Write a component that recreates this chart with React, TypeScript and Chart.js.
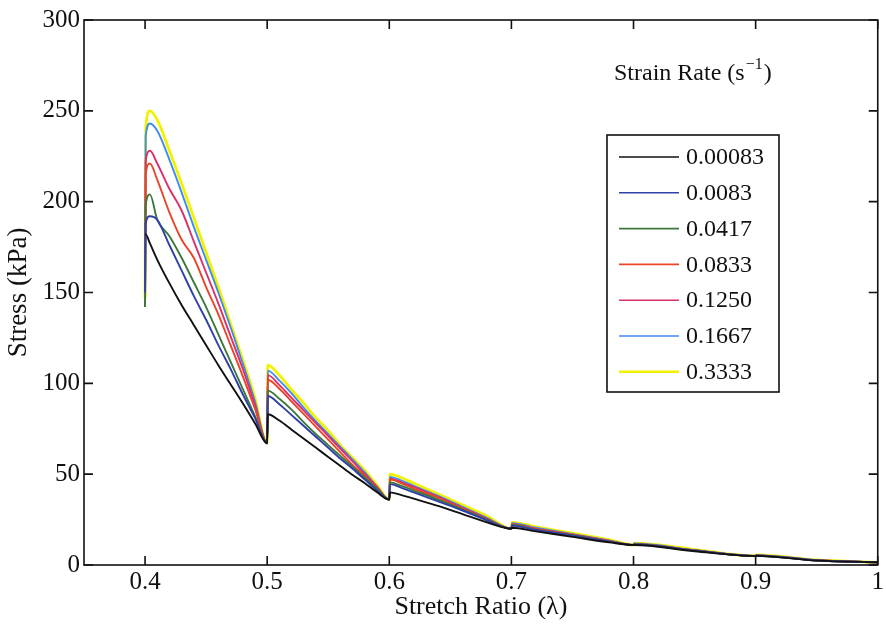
import React, { useEffect, useRef } from "react";
import { Chart, registerables } from "chart.js";

Chart.register(...registerables);

// Stretch ratio grid shared by all series
const lambda = [
  0.4, 0.4005, 0.404, 0.41, 0.42, 0.43, 0.44, 0.45, 0.46, 0.47, 0.48, 0.49,
  0.5, 0.5005, 0.51, 0.52, 0.53, 0.54, 0.55, 0.56, 0.57, 0.58, 0.59,
  0.6, 0.6005, 0.61, 0.62, 0.64, 0.66, 0.68,
  0.7, 0.7005, 0.72, 0.75, 0.78,
  0.8, 0.8005, 0.85,
  0.9, 0.9005, 0.95,
  1.0,
];

const rateLabels = ["0.00083", "0.0083", "0.0417", "0.0833", "0.1250", "0.1667", "0.3333"];

const stress00083 = [
  182, 182, 177, 168, 155, 143, 132, 121, 110, 99.5, 89, 78,
  67, 83, 79.5, 74.5, 69.5, 64.5, 59.5, 54.5, 49.5, 45, 40,
  36, 40, 38.5, 36.5, 32.5, 28, 23.5,
  20, 20.5, 18.5, 15.5, 12.5,
  11, 11, 7.6,
  5, 5, 2.4,
  1.5,
];
const stress0083 = [
  150, 188, 192, 190, 176, 162, 148, 135, 121, 108, 94, 81,
  67, 93, 88.5, 82.5, 76.5, 70.5, 64.5, 58.5, 53, 47, 41,
  36, 44.5, 42.5, 40, 35, 30, 24.5,
  20, 21.7, 19.3, 16.2, 12.9,
  11, 11.3, 7.9,
  5, 5.1, 2.5,
  1.5,
];
const stress0417 = [
  142, 198, 204, 190, 181, 169, 155.5, 142, 127, 112, 97, 82,
  67, 96, 91.5, 85.5, 78.5, 72, 66, 60, 54, 48, 42,
  36, 45.5, 43.5, 41, 36, 30.5, 25,
  20, 22, 19.5, 16.4, 13,
  11, 11.4, 8,
  5, 5.2, 2.5,
  1.5,
];
const stress0833 = [
  142, 215, 221, 212, 194, 179, 169, 153, 138, 121, 104, 86,
  67, 102, 97, 90, 83, 76, 69, 62, 55, 49, 42,
  36, 47, 45, 42, 37, 31, 25,
  20, 22.3, 19.8, 16.6, 13.2,
  11, 11.5, 8,
  5, 5.2, 2.6,
  1.5,
];
const stress1250 = [
  143, 222, 228, 221, 207, 195, 178, 161, 144, 126, 108, 88,
  67, 104.5, 99, 92, 85, 78, 71, 64, 57, 50, 43,
  36, 47.5, 45.5, 43, 37.5, 31.5, 25.5,
  20, 22.5, 20, 16.8, 13.3,
  11, 11.6, 8.1,
  5, 5.3, 2.6,
  1.5,
];
const stress1667 = [
  145, 236, 243, 239, 223, 205, 186, 168, 150, 131, 111, 90,
  67, 107, 101.5, 94.5, 86.5, 79, 72, 65, 58, 51, 43,
  36, 48.5, 46.5, 43.5, 38, 32, 26,
  20, 23, 20.5, 17, 13.5,
  11, 11.8, 8.2,
  5, 5.4, 2.7,
  1.5,
];
const stress3333 = [
  147, 240, 250, 245, 228, 210, 191, 172, 153, 133, 113, 92,
  67, 110, 104.5, 96.5, 89, 81, 74, 66, 59, 52, 44,
  36, 50, 48, 45, 39, 33, 27,
  20, 23.5, 21, 17.5, 14,
  11, 12, 8.5,
  5, 5.5, 2.8,
  1.5,
];

const seriesValues = [stress00083, stress0083, stress0417, stress0833, stress1250, stress1667, stress3333];
const seriesColors = ["#111111", "#3040a8", "#3b7a3b", "#e8452a", "#d9306a", "#3f8cf0", "#f2f200"];
const seriesWidths = [1.9, 1.9, 1.9, 1.9, 1.9, 1.9, 2.8];

const xTicks = [0.4, 0.5, 0.6, 0.7, 0.8, 0.9, 1];
const yTicks = [0, 50, 100, 150, 200, 250, 300];

const SERIF = '"Liberation Serif", "Times New Roman", "DejaVu Serif", serif';

const framePlugin = {
  id: "frameAndLegend",
  afterDatasetsDraw(chart: any) {
    const { ctx, chartArea: a, scales } = chart;
    ctx.save();
    ctx.strokeStyle = "#111";
    ctx.lineWidth = 1.6;
    ctx.strokeRect(a.left, a.top, a.right - a.left, a.bottom - a.top);
    const tl = 9;
    ctx.beginPath();
    for (const v of xTicks) {
      const px = scales.x.getPixelForValue(v);
      ctx.moveTo(px, a.bottom);
      ctx.lineTo(px, a.bottom - tl);
      ctx.moveTo(px, a.top);
      ctx.lineTo(px, a.top + tl);
    }
    for (const v of yTicks) {
      const py = scales.y.getPixelForValue(v);
      ctx.moveTo(a.left, py);
      ctx.lineTo(a.left + tl, py);
      ctx.moveTo(a.right, py);
      ctx.lineTo(a.right - tl, py);
    }
    ctx.stroke();

    // legend title
    ctx.fillStyle = "#111";
    ctx.textBaseline = "alphabetic";
    ctx.textAlign = "left";
    ctx.font = `24px ${SERIF}`;
    const t1 = "Strain Rate (s";
    let tx = 614;
    const ty = 80;
    ctx.fillText(t1, tx, ty);
    tx += ctx.measureText(t1).width;
    ctx.font = `16px ${SERIF}`;
    const sup = "\u22121";
    ctx.fillText(sup, tx + 1, ty - 11);
    tx += ctx.measureText(sup).width + 2;
    ctx.font = `24px ${SERIF}`;
    ctx.fillText(")", tx, ty);

    // legend box
    const bx = 607, by = 135, bw = 172, bh = 257;
    ctx.fillStyle = "#fff";
    ctx.fillRect(bx, by, bw, bh);
    ctx.lineWidth = 1.6;
    ctx.strokeStyle = "#111";
    ctx.strokeRect(bx, by, bw, bh);
    ctx.font = `24px ${SERIF}`;
    ctx.textBaseline = "middle";
    for (let i = 0; i < rateLabels.length; i++) {
      const ry = 157 + i * 35.8;
      ctx.strokeStyle = seriesColors[i];
      ctx.lineWidth = i === 6 ? 2.6 : 1.6;
      ctx.beginPath();
      ctx.moveTo(619, ry);
      ctx.lineTo(679, ry);
      ctx.stroke();
      ctx.fillStyle = "#111";
      ctx.fillText(rateLabels[i], 686, ry + 1);
    }
    ctx.restore();
  },
};

export default function App() {
  const ref = useRef<HTMLCanvasElement | null>(null);
  useEffect(() => {
    if (!ref.current) return;
    const datasets = seriesValues.map((vals, i) => ({
      label: rateLabels[i],
      data: lambda.map((x, j) => ({ x, y: vals[j] })),
      borderColor: seriesColors[i],
      backgroundColor: seriesColors[i],
      borderWidth: seriesWidths[i],
      pointRadius: 0,
      cubicInterpolationMode: "monotone" as const,
      fill: false,
    }));
    const chart = new Chart(ref.current, {
      type: "line",
      data: { datasets },
      plugins: [framePlugin],
      options: {
        animation: false,
        responsive: false,
        events: [],
        layout: { padding: { top: 20, right: 6, left: 0, bottom: 0 } },
        plugins: { legend: { display: false }, tooltip: { enabled: false } },
        scales: {
          x: {
            type: "linear",
            min: 0.35,
            max: 1,
            afterBuildTicks: (s: any) => {
              s.ticks = xTicks.map((v) => ({ value: v }));
            },
            afterFit: (s: any) => {
              s.height = 60;
            },
            grid: { display: false, drawTicks: false },
            border: { display: false },
            ticks: {
              color: "#111",
              font: { family: SERIF, size: 25 },
              padding: 2,
              maxRotation: 0,
              autoSkip: false,
              callback: (v: any) => String(v),
            },
            title: {
              display: true,
              text: "Stretch Ratio (\u03bb)",
              color: "#111",
              font: { family: SERIF, size: 26, lineHeight: 1.1 },
              padding: { top: 0, bottom: 4 },
            },
          },
          y: {
            type: "linear",
            min: 0,
            max: 300,
            afterBuildTicks: (s: any) => {
              s.ticks = yTicks.map((v) => ({ value: v }));
            },
            afterFit: (s: any) => {
              s.width = 84;
            },
            grid: { display: false, drawTicks: false },
            border: { display: false },
            ticks: {
              color: "#111",
              font: { family: SERIF, size: 25 },
              padding: 4,
              autoSkip: false,
              callback: (v: any) => String(v),
            },
            title: {
              display: true,
              text: "Stress (kPa)",
              color: "#111",
              font: { family: SERIF, size: 27, lineHeight: 1.1 },
              padding: { top: 4, bottom: 0 },
            },
          },
        },
      },
    });
    return () => chart.destroy();
  }, []);
  return (
    <div style={{ position: "absolute", left: 0, top: 0, width: 886, height: 625, background: "#fff" }}>
      <canvas ref={ref} width={886} height={625} style={{ display: "block" }} />
    </div>
  );
}
